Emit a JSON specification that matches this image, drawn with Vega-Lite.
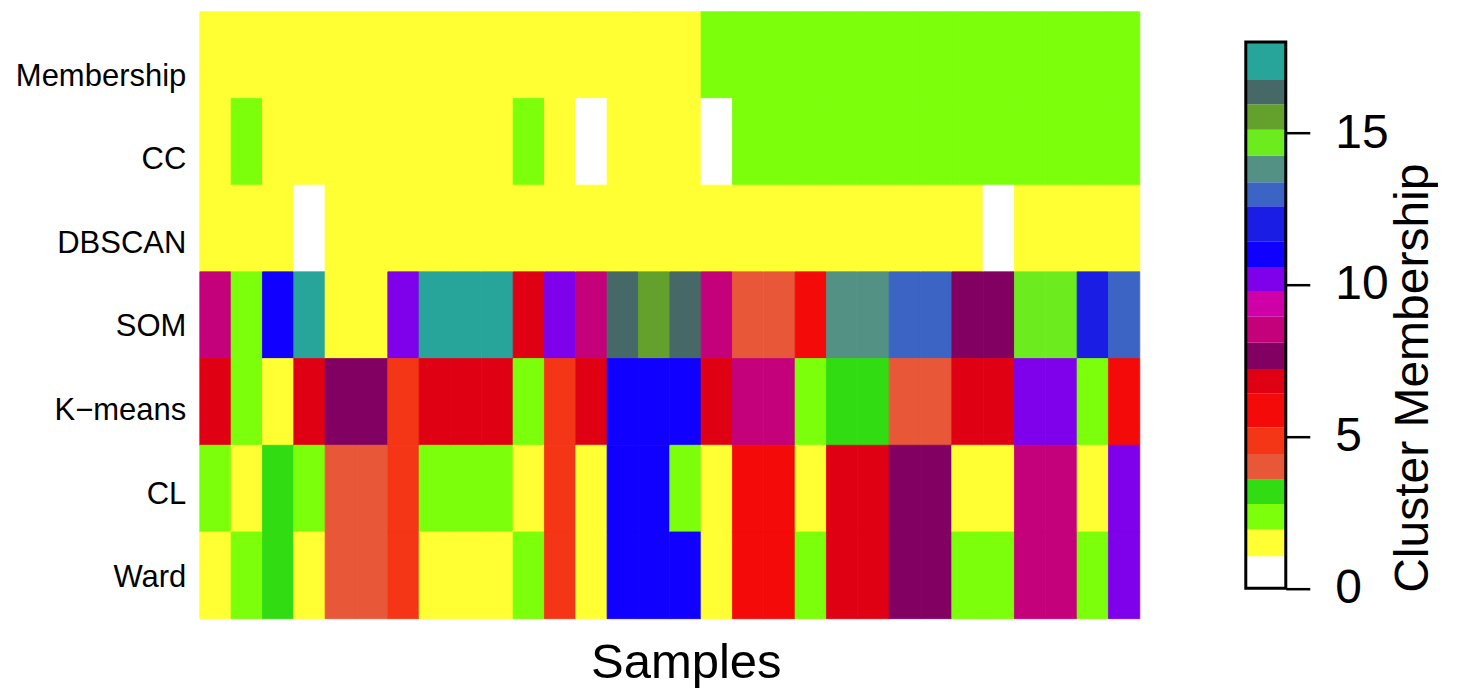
{
  "$schema": "https://vega.github.io/schema/vega-lite/v6.json",
  "padding": {"left": 14.8, "top": 10.7, "right": 0, "bottom": 0},
  "background": "white",
  "config": {"font": "Liberation Sans", "view": {"stroke": null}},
  "datasets": {
    "cells": [
      {"sample": 1, "Membership": 1, "CC": 1, "DBSCAN": 1, "SOM": 9, "K−means": 7, "CL": 2, "Ward": 1},
      {"sample": 2, "Membership": 1, "CC": 2, "DBSCAN": 1, "SOM": 2, "K−means": 2, "CL": 1, "Ward": 2},
      {"sample": 3, "Membership": 1, "CC": 1, "DBSCAN": 1, "SOM": 12, "K−means": 1, "CL": 3, "Ward": 3},
      {"sample": 4, "Membership": 1, "CC": 1, "DBSCAN": 0, "SOM": 19, "K−means": 7, "CL": 2, "Ward": 1},
      {"sample": 5, "Membership": 1, "CC": 1, "DBSCAN": 1, "SOM": 1, "K−means": 8, "CL": 4, "Ward": 4},
      {"sample": 6, "Membership": 1, "CC": 1, "DBSCAN": 1, "SOM": 1, "K−means": 8, "CL": 4, "Ward": 4},
      {"sample": 7, "Membership": 1, "CC": 1, "DBSCAN": 1, "SOM": 11, "K−means": 5, "CL": 5, "Ward": 5},
      {"sample": 8, "Membership": 1, "CC": 1, "DBSCAN": 1, "SOM": 19, "K−means": 7, "CL": 2, "Ward": 1},
      {"sample": 9, "Membership": 1, "CC": 1, "DBSCAN": 1, "SOM": 19, "K−means": 7, "CL": 2, "Ward": 1},
      {"sample": 10, "Membership": 1, "CC": 1, "DBSCAN": 1, "SOM": 19, "K−means": 7, "CL": 2, "Ward": 1},
      {"sample": 11, "Membership": 1, "CC": 2, "DBSCAN": 1, "SOM": 7, "K−means": 2, "CL": 1, "Ward": 2},
      {"sample": 12, "Membership": 1, "CC": 1, "DBSCAN": 1, "SOM": 11, "K−means": 5, "CL": 5, "Ward": 5},
      {"sample": 13, "Membership": 1, "CC": 0, "DBSCAN": 1, "SOM": 9, "K−means": 7, "CL": 1, "Ward": 1},
      {"sample": 14, "Membership": 1, "CC": 1, "DBSCAN": 1, "SOM": 18, "K−means": 12, "CL": 12, "Ward": 12},
      {"sample": 15, "Membership": 1, "CC": 1, "DBSCAN": 1, "SOM": 17, "K−means": 12, "CL": 12, "Ward": 12},
      {"sample": 16, "Membership": 1, "CC": 1, "DBSCAN": 1, "SOM": 18, "K−means": 12, "CL": 2, "Ward": 12},
      {"sample": 17, "Membership": 2, "CC": 0, "DBSCAN": 1, "SOM": 9, "K−means": 7, "CL": 1, "Ward": 1},
      {"sample": 18, "Membership": 2, "CC": 2, "DBSCAN": 1, "SOM": 4, "K−means": 9, "CL": 6, "Ward": 6},
      {"sample": 19, "Membership": 2, "CC": 2, "DBSCAN": 1, "SOM": 4, "K−means": 9, "CL": 6, "Ward": 6},
      {"sample": 20, "Membership": 2, "CC": 2, "DBSCAN": 1, "SOM": 6, "K−means": 2, "CL": 1, "Ward": 2},
      {"sample": 21, "Membership": 2, "CC": 2, "DBSCAN": 1, "SOM": 15, "K−means": 3, "CL": 7, "Ward": 7},
      {"sample": 22, "Membership": 2, "CC": 2, "DBSCAN": 1, "SOM": 15, "K−means": 3, "CL": 7, "Ward": 7},
      {"sample": 23, "Membership": 2, "CC": 2, "DBSCAN": 1, "SOM": 14, "K−means": 4, "CL": 8, "Ward": 8},
      {"sample": 24, "Membership": 2, "CC": 2, "DBSCAN": 1, "SOM": 14, "K−means": 4, "CL": 8, "Ward": 8},
      {"sample": 25, "Membership": 2, "CC": 2, "DBSCAN": 1, "SOM": 8, "K−means": 7, "CL": 1, "Ward": 2},
      {"sample": 26, "Membership": 2, "CC": 2, "DBSCAN": 0, "SOM": 8, "K−means": 7, "CL": 1, "Ward": 2},
      {"sample": 27, "Membership": 2, "CC": 2, "DBSCAN": 1, "SOM": 16, "K−means": 11, "CL": 9, "Ward": 9},
      {"sample": 28, "Membership": 2, "CC": 2, "DBSCAN": 1, "SOM": 16, "K−means": 11, "CL": 9, "Ward": 9},
      {"sample": 29, "Membership": 2, "CC": 2, "DBSCAN": 1, "SOM": 13, "K−means": 2, "CL": 1, "Ward": 2},
      {"sample": 30, "Membership": 2, "CC": 2, "DBSCAN": 1, "SOM": 14, "K−means": 6, "CL": 11, "Ward": 11}
    ],
    "bar": [
      {"cluster": 0, "lo": 0, "hi": 1.06},
      {"cluster": 1, "lo": 1.06, "hi": 1.94},
      {"cluster": 2, "lo": 1.94, "hi": 2.78},
      {"cluster": 3, "lo": 2.78, "hi": 3.58},
      {"cluster": 4, "lo": 3.58, "hi": 4.43},
      {"cluster": 5, "lo": 4.43, "hi": 5.3},
      {"cluster": 6, "lo": 5.3, "hi": 6.43},
      {"cluster": 7, "lo": 6.43, "hi": 7.23},
      {"cluster": 8, "lo": 7.23, "hi": 8.09},
      {"cluster": 9, "lo": 8.09, "hi": 8.95},
      {"cluster": 10, "lo": 8.95, "hi": 9.8},
      {"cluster": 11, "lo": 9.8, "hi": 10.59},
      {"cluster": 12, "lo": 10.59, "hi": 11.44},
      {"cluster": 13, "lo": 11.44, "hi": 12.59},
      {"cluster": 14, "lo": 12.59, "hi": 13.38},
      {"cluster": 15, "lo": 13.38, "hi": 14.26},
      {"cluster": 16, "lo": 14.26, "hi": 15.11},
      {"cluster": 17, "lo": 15.11, "hi": 15.95},
      {"cluster": 18, "lo": 15.95, "hi": 16.75},
      {"cluster": 19, "lo": 16.75, "hi": 18}
    ]
  },
  "hconcat": [
    {
      "width": 940,
      "height": 607,
      "data": {"name": "cells"},
      "transform": [
        {"fold": ["Membership", "CC", "DBSCAN", "SOM", "K−means", "CL", "Ward"], "as": ["method", "cluster"]}
      ],
      "mark": {"type": "rect", "strokeWidth": 0.8},
      "encoding": {
        "x": {
          "field": "sample", "type": "ordinal",
          "scale": {"paddingInner": 0, "paddingOuter": 0},
          "axis": {
            "labels": false, "ticks": false, "domain": false, "grid": false,
            "title": "Samples", "titleFontSize": 49, "titleFontWeight": "normal", "titleColor": "black",
            "titleX": 486, "titleY": 59, "titleBaseline": "alphabetic", "titleAlign": "center"
          }
        },
        "y": {
          "field": "method", "type": "nominal",
          "sort": ["Membership", "CC", "DBSCAN", "SOM", "K−means", "CL", "Ward"],
          "scale": {"paddingInner": 0, "paddingOuter": 0},
          "axis": {
            "title": null, "ticks": false, "tickSize": 0, "domain": false, "grid": false,
            "labelFontSize": 31, "labelPadding": 14, "labelColor": "black",
            "labelOffset": {
              "condition": [
                {"test": "datum.value === 'Membership'", "value": 21.9},
                {"test": "datum.value === 'CC'", "value": 18.7},
                {"test": "datum.value === 'DBSCAN'", "value": 15.5},
                {"test": "datum.value === 'SOM'", "value": 12.3},
                {"test": "datum.value === 'K−means'", "value": 9.1},
                {"test": "datum.value === 'CL'", "value": 5.9}
              ],
              "value": 2.7
            }
          }
        },
        "color": {
          "field": "cluster", "type": "ordinal",
          "scale": {
            "domain": [0, 1, 2, 3, 4, 5, 6, 7, 8, 9, 10, 11, 12, 13, 14, 15, 16, 17, 18, 19],
            "range": ["#FFFFFF", "#FFFF33", "#7BFF0B", "#32DC12", "#E85838", "#F43616", "#F40A08", "#E00014", "#820062", "#C4007A", "#D000A8", "#7F00EB", "#1000FF", "#1A1EE5", "#3C64C4", "#529184", "#6CEC1E", "#63A02C", "#466968", "#28A59A"]
          },
          "legend": null
        },
        "stroke": {
          "field": "cluster", "type": "ordinal",
          "scale": {
            "domain": [0, 1, 2, 3, 4, 5, 6, 7, 8, 9, 10, 11, 12, 13, 14, 15, 16, 17, 18, 19],
            "range": ["#FFFFFF", "#FFFF33", "#7BFF0B", "#32DC12", "#E85838", "#F43616", "#F40A08", "#E00014", "#820062", "#C4007A", "#D000A8", "#7F00EB", "#1000FF", "#1A1EE5", "#3C64C4", "#529184", "#6CEC1E", "#63A02C", "#466968", "#28A59A"]
          },
          "legend": null
        }
      }
    },
    {
      "width": 40,
      "height": 607,
      "data": {"name": "bar"},
      "layer": [
        {
          "mark": {"type": "rect"},
          "encoding": {
            "y": {
              "field": "lo", "type": "quantitative",
              "scale": {"domain": [-1, 19], "nice": false, "zero": false},
              "axis": {
                "orient": "right", "values": [0, 5, 10, 15], "domain": false, "grid": false,
                "tickSize": 24, "tickWidth": 2.5, "tickColor": "black",
                "labelFontSize": 48, "labelPadding": 25, "labelColor": "black", "labelFlush": false,
                "title": "Cluster Membership", "titleFontSize": 48, "titleFontWeight": "normal", "titleColor": "black",
                "titleAngle": 270, "titleX": 142, "titleY": 366, "titleAlign": "center", "titleBaseline": "alphabetic"
              }
            },
            "y2": {"field": "hi"},
            "color": {"field": "cluster", "type": "ordinal", "legend": null}
          }
        },
        {
          "mark": {"type": "rect", "filled": false, "stroke": "black", "strokeWidth": 3},
          "encoding": {
            "y": {"aggregate": "min", "field": "lo", "type": "quantitative"},
            "y2": {"aggregate": "max", "field": "hi"}
          }
        }
      ]
    }
  ],
  "spacing": 103
}
